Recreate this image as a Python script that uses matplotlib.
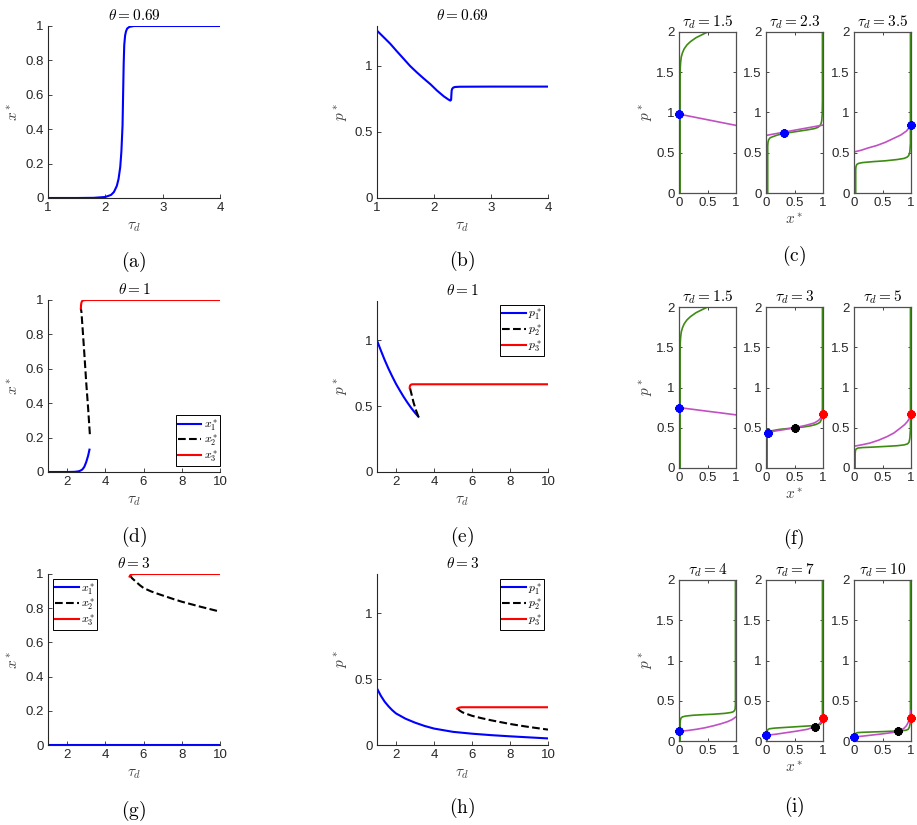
import numpy as np
import matplotlib
matplotlib.use('Agg')
import matplotlib.pyplot as plt
from matplotlib.ticker import FuncFormatter

plt.rcParams['mathtext.fontset'] = 'cm'
plt.rcParams['font.family'] = ['Liberation Sans', 'DejaVu Sans']

# colores
azul = '#0000ff'
rojo = '#ff0000'
verde = '#3d8c12'
magenta = '#c050c4'

# (a) theta = 0.69, x*
tau_a = [1.0, 1.5, 1.8, 2.0, 2.1, 2.15, 2.2, 2.23, 2.26, 2.28, 2.30, 2.31, 2.32, 2.33, 2.345, 2.36, 2.38, 2.42, 2.5, 3.0, 4.0]
x_a = [0.0, 0.0, 0.001, 0.006, 0.018, 0.035, 0.07, 0.11, 0.18, 0.27, 0.42, 0.60, 0.78, 0.89, 0.945, 0.968, 0.985, 0.995, 1.0, 1.0, 1.0]

# (b) theta = 0.69, p*
tau_b = [1.0, 1.12, 1.23, 1.35, 1.47, 1.58, 1.70, 1.82, 1.94, 2.05, 2.17, 2.24, 2.27, 2.287, 2.30, 2.305, 2.31, 2.32, 2.34, 2.37, 2.45, 3.0, 4.0]
p_b = [1.265, 1.214, 1.167, 1.108, 1.051, 0.998, 0.949, 0.903, 0.859, 0.813, 0.769, 0.748, 0.740, 0.736, 0.742, 0.78, 0.812, 0.826, 0.835, 0.839, 0.841, 0.842, 0.842]

# (d) theta = 1, x*
tau_d1 = [1.0, 2.0, 2.4, 2.6, 2.7, 2.8, 2.9, 3.0, 3.1, 3.17]
x_d1 = [0.0, 0.0, 0.001, 0.004, 0.008, 0.015, 0.03, 0.058, 0.095, 0.13]
tau_d2 = [3.19, 3.1, 3.0, 2.9, 2.82, 2.75, 2.72]
x_d2 = [0.22, 0.37, 0.52, 0.69, 0.82, 0.93, 0.95]
tau_d3 = [2.72, 2.73, 2.75, 2.78, 2.82, 2.9, 3.0, 10.0]
x_d3 = [0.95, 0.972, 0.985, 0.993, 0.997, 0.999, 1.0, 1.0]

# (e) theta = 1, p*
tau_e1 = [1.0, 1.2, 1.4, 1.6, 1.8, 2.0, 2.2, 2.4, 2.6, 2.8, 3.0, 3.18]
p_e1 = [1.0, 0.925, 0.853, 0.787, 0.727, 0.67, 0.62, 0.572, 0.528, 0.487, 0.45, 0.42]
tau_e2 = [3.18, 3.05, 2.92, 2.82, 2.75, 2.72]
p_e2 = [0.42, 0.47, 0.53, 0.59, 0.63, 0.645]
tau_e3 = [2.72, 2.73, 2.75, 2.78, 2.82, 2.9, 10.0]
p_e3 = [0.64, 0.652, 0.659, 0.663, 0.666, 0.667, 0.667]

# (g) theta = 3, x*
tau_g1 = [1.0, 10.0]
x_g1 = [0.0, 0.0]
tau_g2 = [5.28, 5.4, 5.6, 5.8, 6.0, 6.4, 6.8, 7.2, 7.6, 8.0, 8.5, 9.0, 9.5, 10.0]
x_g2 = [0.994, 0.975, 0.955, 0.935, 0.918, 0.898, 0.882, 0.867, 0.852, 0.838, 0.823, 0.808, 0.794, 0.78]
tau_g3 = [5.27, 5.3, 5.35, 5.45, 5.6, 10.0]
x_g3 = [0.985, 0.992, 0.996, 0.999, 1.0, 1.0]

# (h) theta = 3, p*
tau_h1 = [1.0, 1.2, 1.4, 1.6, 1.8, 2.0, 2.5, 3.0, 3.5, 4.0, 5.0, 6.0, 7.0, 8.0, 9.0, 10.0]
p_h1 = [0.43, 0.375, 0.33, 0.295, 0.265, 0.24, 0.2, 0.17, 0.145, 0.125, 0.10, 0.086, 0.075, 0.066, 0.058, 0.05]
tau_h2 = [5.25, 5.35, 5.5, 5.75, 6.0, 6.5, 7.0, 7.5, 8.0, 8.5, 9.0, 9.5, 10.0]
p_h2 = [0.275, 0.262, 0.248, 0.235, 0.222, 0.204, 0.188, 0.174, 0.16, 0.148, 0.137, 0.127, 0.117]
tau_h3 = [5.22, 5.26, 5.32, 5.45, 10.0]
p_h3 = [0.275, 0.28, 0.284, 0.287, 0.287]

# paneles pequenos: curva verde (x, p), curva magenta (x, p), puntos
g_c1x = [0.02, 0.02, 0.022, 0.028, 0.04, 0.06, 0.09, 0.14, 0.2, 0.3, 0.4, 0.5]
g_c1p = [0.0, 1.45, 1.55, 1.62, 1.69, 1.74, 1.79, 1.84, 1.88, 1.93, 1.965, 2.0]
m_c1x = [0.0, 0.25, 0.5, 0.75, 1.0]
m_c1p = [0.98, 0.945, 0.91, 0.875, 0.84]

g_c2x = [0.03, 0.03, 0.035, 0.045, 0.07, 0.12, 0.2, 0.32, 0.5, 0.73, 0.85, 0.91, 0.945, 0.965, 0.978, 0.986, 0.99, 0.99]
g_c2p = [0.0, 0.58, 0.63, 0.66, 0.685, 0.70, 0.72, 0.74, 0.76, 0.785, 0.80, 0.815, 0.835, 0.86, 0.9, 0.98, 1.15, 2.0]
m_c2x = [0.0, 0.5, 1.0]
m_c2p = [0.715, 0.78, 0.844]

g_c3x = [0.03, 0.03, 0.035, 0.05, 0.08, 0.15, 0.34, 0.55, 0.75, 0.88, 0.93, 0.96, 0.98, 0.99, 0.99]
g_c3p = [0.0, 0.29, 0.33, 0.355, 0.368, 0.378, 0.39, 0.40, 0.415, 0.43, 0.445, 0.465, 0.51, 0.62, 2.0]
m_c3x = [0.0, 0.12, 0.25, 0.4, 0.55, 0.7, 0.82, 0.92, 1.0]
m_c3p = [0.51, 0.53, 0.56, 0.59, 0.63, 0.68, 0.72, 0.77, 0.84]

m_f1x = [0.0, 0.25, 0.5, 0.75, 1.0]
m_f1p = [0.75, 0.728, 0.705, 0.683, 0.66]

g_f2x = [0.02, 0.02, 0.025, 0.035, 0.06, 0.12, 0.24, 0.38, 0.52, 0.66, 0.79, 0.87, 0.92, 0.95, 0.97, 0.982, 0.99, 0.99]
g_f2p = [0.0, 0.38, 0.42, 0.44, 0.455, 0.465, 0.48, 0.49, 0.5, 0.51, 0.525, 0.54, 0.555, 0.57, 0.6, 0.65, 0.75, 2.0]
m_f2x = [0.0, 0.15, 0.3, 0.5, 0.7, 0.85, 0.92, 0.96, 1.0]
m_f2p = [0.44, 0.458, 0.475, 0.5, 0.53, 0.56, 0.59, 0.62, 0.675]

g_f3x = [0.02, 0.02, 0.025, 0.035, 0.07, 0.15, 0.34, 0.55, 0.76, 0.88, 0.94, 0.965, 0.98, 0.99, 0.99]
g_f3p = [0.0, 0.18, 0.215, 0.235, 0.248, 0.254, 0.26, 0.268, 0.277, 0.287, 0.3, 0.32, 0.37, 0.48, 2.0]
m_f3x = [0.0, 0.15, 0.28, 0.43, 0.58, 0.7, 0.82, 0.89, 0.94, 0.975, 1.0]
m_f3p = [0.27, 0.29, 0.31, 0.345, 0.39, 0.435, 0.5, 0.54, 0.58, 0.62, 0.67]

g_i1x = [0.02, 0.02, 0.025, 0.035, 0.06, 0.12, 0.25, 0.45, 0.61, 0.8, 0.91, 0.95, 0.975, 0.985, 0.99, 0.99]
g_i1p = [0.0, 0.22, 0.26, 0.285, 0.3, 0.31, 0.32, 0.328, 0.333, 0.343, 0.354, 0.363, 0.378, 0.4, 0.45, 2.0]
m_i1x = [0.0, 0.15, 0.31, 0.46, 0.61, 0.74, 0.85, 0.93, 1.0]
m_i1p = [0.12, 0.13, 0.146, 0.165, 0.19, 0.215, 0.24, 0.265, 0.30]

g_i2x = [0.02, 0.02, 0.025, 0.035, 0.06, 0.15, 0.3, 0.48, 0.7, 0.85, 0.91, 0.95, 0.97, 0.983, 0.99, 0.99]
g_i2p = [0.0, 0.11, 0.13, 0.143, 0.152, 0.16, 0.167, 0.175, 0.185, 0.192, 0.197, 0.205, 0.22, 0.25, 0.3, 2.0]
m_i2x = [0.0, 0.18, 0.36, 0.55, 0.73, 0.86, 0.92, 0.97, 1.0]
m_i2p = [0.07, 0.085, 0.104, 0.124, 0.146, 0.18, 0.205, 0.24, 0.31]

g_i3x = [0.02, 0.02, 0.025, 0.035, 0.06, 0.15, 0.3, 0.52, 0.75, 0.91, 0.95, 0.97, 0.983, 0.99, 0.99]
g_i3p = [0.0, 0.065, 0.085, 0.097, 0.104, 0.108, 0.112, 0.117, 0.124, 0.133, 0.145, 0.17, 0.21, 0.29, 2.0]
m_i3x = [0.0, 0.17, 0.33, 0.48, 0.6, 0.7, 0.78, 0.84, 0.88, 0.92, 0.95, 0.975, 1.0]
m_i3p = [0.05, 0.062, 0.075, 0.087, 0.098, 0.108, 0.122, 0.14, 0.16, 0.19, 0.23, 0.28, 0.375]

puntos_c = [[(0.0, 0.98, azul)], [(0.32, 0.74, azul)], [(1.0, 0.84, azul)]]
puntos_f = [[(0.0, 0.75, azul)], [(0.03, 0.44, azul), (0.5, 0.5, 'k'), (1.0, 0.67, rojo)], [(1.0, 0.67, rojo)]]
puntos_i = [[(0.0, 0.12, azul)], [(0.0, 0.07, azul), (0.86, 0.18, 'k'), (1.0, 0.29, rojo)],
            [(0.0, 0.05, azul), (0.78, 0.12, 'k'), (1.0, 0.29, rojo)]]

W, H = 917, 825
fig = plt.figure(figsize=(W / 100, H / 100), dpi=100)
gris = '#262626'
fmt = FuncFormatter(lambda v, p: f'{v:g}')
lw_grande = 1.5


def ejes(izq, arriba, ancho, alto):
    return fig.add_axes([izq / W, 1 - (arriba + alto) / H, ancho / W, alto / H])


def estilo_grande(ax, xlim, xticks, ylim, yticks, ylabel, titulo):
    ax.set_xlim(xlim)
    ax.set_ylim(ylim)
    ax.set_xticks(xticks)
    ax.set_yticks(yticks)
    ax.xaxis.set_major_formatter(fmt)
    ax.yaxis.set_major_formatter(fmt)
    for s in ['top', 'right']:
        ax.spines[s].set_visible(False)
    for s in ['left', 'bottom']:
        ax.spines[s].set_color(gris)
        ax.spines[s].set_linewidth(0.8)
    ax.tick_params(direction='in', length=3, width=0.6, labelsize=9.5, colors=gris, pad=3)
    ax.set_xlabel(r'$\tau_d$', fontsize=11, color='#404040', labelpad=4)
    ax.set_ylabel(ylabel, fontsize=11, color='#404040', labelpad=3)
    ax.set_title(titulo, fontsize=11, pad=4)
    ax.patch.set_alpha(0)


def leyenda(ax, nombre, loc, anchor):
    ax.legend([nombre + '_1^*$', nombre + '_2^*$', nombre + '_3^*$'], loc=loc, bbox_to_anchor=anchor,
              fontsize=8.5, fancybox=False, edgecolor='k', framealpha=1, handlelength=2.0,
              borderpad=0.15, labelspacing=0.0, handletextpad=0.2, borderaxespad=0)
    ax.get_legend().get_frame().set_linewidth(0.7)


# fila 1
ax = ejes(48, 26, 172, 172)
ax.plot(tau_a, x_a, color=azul, lw=lw_grande)
estilo_grande(ax, (1, 4), [1, 2, 3, 4], (0, 1), [0, 0.2, 0.4, 0.6, 0.8, 1], r'$x^*$', r'$\theta = 0.69$')

ax = ejes(377, 26, 171, 172)
ax.plot(tau_b, p_b, color=azul, lw=lw_grande)
estilo_grande(ax, (1, 4), [1, 2, 3, 4], (0, 1.3), [0, 0.5, 1], r'$p^*$', r'$\theta = 0.69$')

# fila 2
ax = ejes(48, 300, 172, 172)
ax.plot(tau_d1, x_d1, color=azul, lw=lw_grande)
ax.plot(tau_d2, x_d2, 'k--', lw=lw_grande)
ax.plot(tau_d3, x_d3, color=rojo, lw=lw_grande)
estilo_grande(ax, (1, 10), [2, 4, 6, 8, 10], (0, 1), [0, 0.2, 0.4, 0.6, 0.8, 1], r'$x^*$', r'$\theta = 1$')
leyenda(ax, '$x', 'lower right', (1.0, 0.035))

ax = ejes(377, 301, 171, 171)
ax.plot(tau_e1, p_e1, color=azul, lw=lw_grande)
ax.plot(tau_e2, p_e2, 'k--', lw=lw_grande)
ax.plot(tau_e3, p_e3, color=rojo, lw=lw_grande)
estilo_grande(ax, (1, 10), [2, 4, 6, 8, 10], (0, 1.3), [0, 0.5, 1], r'$p^*$', r'$\theta = 1$')
leyenda(ax, '$p', 'upper right', (0.977, 0.977))

# fila 3
ax = ejes(48, 574, 172, 171)
ax.plot(tau_g1, x_g1, color=azul, lw=lw_grande)
ax.plot(tau_g2, x_g2, 'k--', lw=lw_grande)
ax.plot(tau_g3, x_g3, color=rojo, lw=lw_grande)
estilo_grande(ax, (1, 10), [2, 4, 6, 8, 10], (0, 1), [0, 0.2, 0.4, 0.6, 0.8, 1], r'$x^*$', r'$\theta = 3$')
leyenda(ax, '$x', 'upper left', (0.03, 0.97))

ax = ejes(377, 574, 171, 171)
ax.plot(tau_h1, p_h1, color=azul, lw=lw_grande)
ax.plot(tau_h2, p_h2, 'k--', lw=lw_grande)
ax.plot(tau_h3, p_h3, color=rojo, lw=lw_grande)
estilo_grande(ax, (1, 10), [2, 4, 6, 8, 10], (0, 1.3), [0, 0.5, 1], r'$p^*$', r'$\theta = 3$')
leyenda(ax, '$p', 'upper right', (0.977, 0.97))

# columnas de paneles pequenos
izqs = [679, 766, 854]
filas = [
    (32, ['1.5', '2.3', '3.5'],
     [(g_c1x, g_c1p), (g_c2x, g_c2p), (g_c3x, g_c3p)],
     [(m_c1x, m_c1p), (m_c2x, m_c2p), (m_c3x, m_c3p)], puntos_c),
    (307, ['1.5', '3', '5'],
     [(g_c1x, g_c1p), (g_f2x, g_f2p), (g_f3x, g_f3p)],
     [(m_f1x, m_f1p), (m_f2x, m_f2p), (m_f3x, m_f3p)], puntos_f),
    (580, ['4', '7', '10'],
     [(g_i1x, g_i1p), (g_i2x, g_i2p), (g_i3x, g_i3p)],
     [(m_i1x, m_i1p), (m_i2x, m_i2p), (m_i3x, m_i3p)], puntos_i),
]

for arriba, taus, verdes, magentas, puntos in filas:
    for k in range(3):
        ax = ejes(izqs[k], arriba, 57, 161)
        ax.plot(verdes[k][0], verdes[k][1], color=verde, lw=1.2)
        ax.plot(magentas[k][0], magentas[k][1], color=magenta, lw=1.2)
        for (px, py, c) in puntos[k]:
            ax.plot(px, py, marker=(8, 2, 0), ms=6, mew=1.8, color=c, clip_on=False, zorder=5)
        ax.set_xlim(0, 1)
        ax.set_ylim(0, 2)
        ax.set_xticks([0, 0.5, 1])
        ax.set_yticks([0, 0.5, 1, 1.5, 2])
        ax.xaxis.set_major_formatter(fmt)
        ax.yaxis.set_major_formatter(fmt)
        for s in ax.spines.values():
            s.set_color('#505050')
            s.set_linewidth(0.9)
        ax.tick_params(direction='in', length=2.5, width=0.6, labelsize=9.5, colors=gris,
                       top=True, right=True, pad=3)
        ax.set_title(r'$\tau_d = ' + taus[k] + '$', fontsize=11, pad=4)
        if k == 0:
            ax.set_ylabel(r'$p^*$', fontsize=11, color='#404040', labelpad=1)
        if k == 1:
            ax.set_xlabel(r'$x^*$', fontsize=11, color='#404040', labelpad=2)

# etiquetas de los paneles
etiquetas = [('a', 134, 262), ('b', 462, 261), ('c', 794, 256),
             ('d', 134, 537), ('e', 462, 537), ('f', 794, 539),
             ('g', 134, 811), ('h', 462, 808), ('i', 794, 807)]
for letra, x, y in etiquetas:
    fig.text(x / W, 1 - y / H, r'$(\mathrm{' + letra + '})$', ha='center', va='center', fontsize=14)

fig.savefig('out.png', dpi=100)
